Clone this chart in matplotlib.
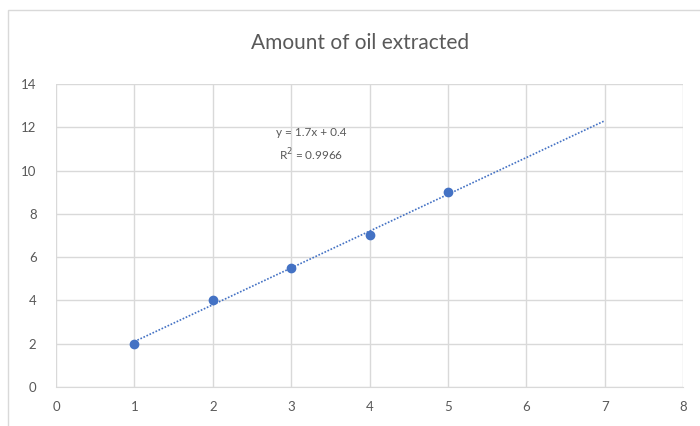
import numpy as np
import matplotlib
matplotlib.use("Agg")
import matplotlib.pyplot as plt
from matplotlib.patches import Rectangle

x_vals = [1, 2, 3, 4, 5]
y_vals = [2, 4, 5.5, 7, 9]
trend_x = [1, 7]
x_ticks = [0, 1, 2, 3, 4, 5, 6, 7, 8]
y_ticks = [0, 2, 4, 6, 8, 10, 12, 14]

BLUE = "#4472C4"
GREY = "#595959"
GRID = "#D9D9D9"

plt.rcParams["font.family"] = ["Lato", "DejaVu Sans"]

fig = plt.figure(figsize=(7, 4.26), dpi=100)
ax = fig.add_axes([0.08, 0.0915, 0.896, 0.7115])

# chart frame
fig.patches.append(Rectangle((8 / 700, -0.1), 1.2, 1 - 10 / 426 + 0.1,
                             transform=fig.transFigure, fill=False,
                             edgecolor="#D9D9D9", linewidth=1))

slope, intercept = np.polyfit(x_vals, y_vals, 1)
pred = slope * np.array(x_vals) + intercept
r2 = 1 - np.sum((np.array(y_vals) - pred) ** 2) / np.sum((np.array(y_vals) - np.mean(y_vals)) ** 2)

tx = np.array(trend_x)
ax.plot(tx, slope * tx + intercept, linestyle=(0, (1, 1)), color=BLUE, linewidth=1.2, zorder=2)
ax.plot(x_vals, y_vals, "o", color=BLUE, markersize=6, zorder=3)

ax.text(3.25, 11.75, "y = %.1fx + %.1f" % (slope, intercept), ha="center", va="center",
        fontsize=8.5, color=GREY)
ax.text(3.25, 10.75, "R$^2$ = %.4f" % r2, ha="center", va="center",
        fontsize=8.5, color=GREY)

ax.set_xlim(0, 8)
ax.set_ylim(0, 14)
ax.set_xticks(x_ticks)
ax.set_yticks(y_ticks)
ax.grid(True, color=GRID, linewidth=1)
ax.set_axisbelow(True)
for side in ["top", "right", "left"]:
    ax.spines[side].set_visible(False)
ax.spines["bottom"].set_color(GRID)
ax.tick_params(length=0, colors=GREY, labelsize=9.5, pad=10)
ax.tick_params(axis="y", pad=14)

fig.text(0.515, 0.9, "Amount of oil extracted", ha="center", va="center",
         fontsize=15, color=GREY)

fig.savefig("out.png", dpi=100)
